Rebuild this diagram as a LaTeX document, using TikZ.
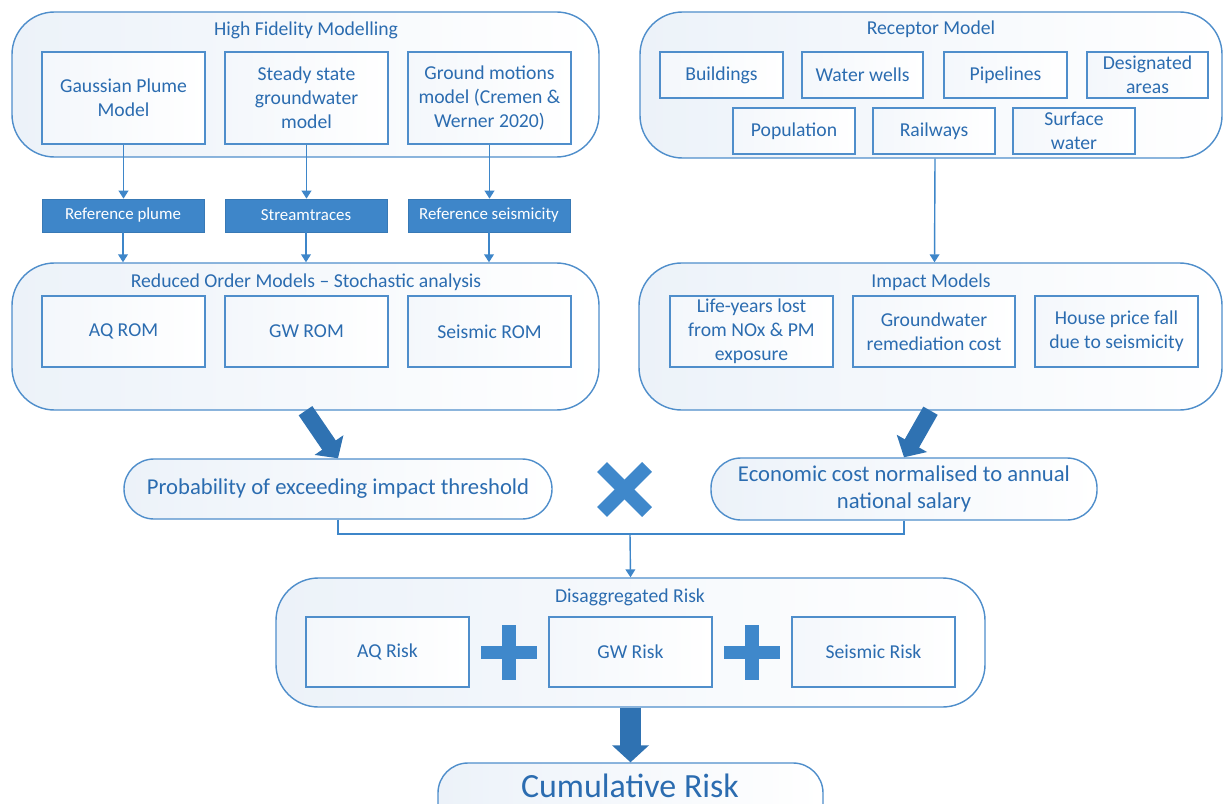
\documentclass[tikz,border=0pt]{standalone}
\usepackage{fontspec}
\setmainfont{Carlito}
\usetikzlibrary{arrows.meta,calc}
\definecolor{tc}{HTML}{2B6CB0}
\definecolor{bc}{HTML}{4F8ECB}
\definecolor{fc}{HTML}{3E86C9}
\definecolor{fa}{HTML}{2F72B2}
\definecolor{sym}{HTML}{3F88CB}
\definecolor{cl}{HTML}{ECF2F9}
\newcommand{\boxfnt}{\fontsize{11.2}{13.6}\selectfont}
\newcommand{\ttlfnt}{\fontsize{11.2}{13.6}\selectfont}
\newcommand{\smfnt}{\fontsize{9.6}{11}\selectfont}
\newcommand{\midfnt}{\fontsize{12.9}{15.2}\selectfont}
\newcommand{\bigfnt}{\fontsize{19.3}{22}\selectfont}
% node from its corner pixels: style, name, x1, y1, x2, y2, text
\newcommand{\bnode}[7]{\node[#1, minimum width={(#5-#3)*0.02cm}, minimum height={(#6-#4)*0.02cm}] (#2) at ({(#3+#5)/2},{(#4+#6)/2}) {#7};}
\tikzset{
  cont/.style={draw=bc, line width=0.8pt, rounded corners=0.85cm, left color=cl, right color=white, inner sep=0pt},
  pill/.style={draw=bc, line width=0.8pt, rounded corners=0.6cm, left color=cl, right color=white, inner sep=0pt, align=center, text=tc, font=\midfnt},
  box/.style={draw=bc, line width=0.8pt, left color=cl!60, right color=white, inner sep=0pt, align=center, text=tc, font=\boxfnt},
  fbox/.style={fill=fc, draw=fc!90!black, line width=0.4pt, inner sep=0pt, text=white, font=\smfnt},
  ttl/.style={text=tc, font=\ttlfnt, inner sep=0pt},
  conn/.style={draw=fc, line width=0.8pt, -{Triangle[width=5.5pt,length=4.5pt]}},
  line/.style={draw=fc, line width=0.8pt},
  fat/.style={draw=fa, line width=0.33cm, -{Triangle[width=0.68cm,length=0.32cm]}},
}
\begin{document}
\begin{tikzpicture}[x=0.02cm,y=-0.02cm]
\useasboundingbox (0,0) rectangle (1223,804);
\fill[white] (0,0) rectangle (1223,804);

% High fidelity modelling
\bnode{cont}{hf}{12}{12}{599}{157}{}
\node[ttl] (hft) at (306,30) {High Fidelity Modelling};
\bnode{box}{g1}{42}{52}{205}{144}{Gaussian Plume\\Model}
\bnode{box}{g2}{225}{52}{388}{144}{Steady state\\groundwater\\model}
\bnode{box}{g3}{408}{52}{571}{144}{Ground motions\\model (Cremen \&\\Werner 2020)}

\bnode{fbox}{f1}{42}{199}{204}{232}{Reference plume}
\bnode{fbox}{f2}{225}{199}{387}{232}{Streamtraces}
\bnode{fbox}{f3}{408}{199}{570}{232}{Reference seismicity}

% ROM
\bnode{cont}{rom}{12}{263}{599}{410}{}
\node[ttl] (romt) at (306,282) {Reduced Order Models -- Stochastic analysis};
\bnode{box}{r1}{42}{296}{205}{367}{AQ ROM}
\bnode{box}{r2}{225}{296}{388}{367}{GW ROM}
\bnode{box}{r3}{408}{296}{571}{367}{Seismic ROM}

\draw[conn] (g1.south) -- (g1.south |- f1.north);
\draw[conn] (g2.south) -- (g2.south |- f2.north);
\draw[conn] (g3.south) -- (g3.south |- f3.north);
\draw[conn] (f1.south) -- (f1.south |- rom.north);
\draw[conn] (f2.south) -- (f2.south |- rom.north);
\draw[conn] (f3.south) -- (f3.south |- rom.north);

% Receptor model
\bnode{cont}{rec}{640}{12}{1222}{158}{}
\node[ttl] (rect) at (931,29) {Receptor Model};
\bnode{box}{b1}{660}{52}{783}{98}{Buildings}
\bnode{box}{b2}{802}{52}{923}{98}{Water wells}
\bnode{box}{b3}{944}{52}{1067}{98}{Pipelines}
\bnode{box}{b4}{1087}{52}{1208}{98}{Designated\\areas}
\bnode{box}{b5}{733}{108}{855}{154}{Population}
\bnode{box}{b6}{873}{108}{995}{154}{Railways}
\bnode{box}{b7}{1013}{108}{1135}{154}{Surface\\water}

% Impact models
\bnode{cont}{imp}{639}{263}{1222}{410}{}
\node[ttl] (impt) at (931,282) {Impact Models};
\bnode{box}{i1}{670}{296}{833}{367}{Life-years lost\\from NOx \& PM\\exposure}
\bnode{box}{i2}{853}{296}{1015}{367}{Groundwater\\remediation cost}
\bnode{box}{i3}{1035}{296}{1198}{367}{House price fall\\due to seismicity}

\draw[conn] ([xshift=0.08cm]rec.south) -- ([xshift=0.08cm]imp.north);

% Middle row
\bnode{pill}{prob}{124}{459}{552}{519}{Probability of exceeding impact threshold}
\bnode{pill}{econ}{711}{458}{1097}{520}{Economic cost normalised to annual\\national salary}

\draw[fat] (rom.south) -- (prob.north);
\draw[fat] (imp.south) -- (econ.north);

% multiplication sign
\draw[sym, line width=0.28cm] (602,467) -- (647,512);
\draw[sym, line width=0.28cm] (602,512) -- (647,467);

% Disaggregated risk
\bnode{cont}{dis}{276}{578}{985}{707}{}
\node[ttl] (dist) at (630,597) {Disaggregated Risk};
\bnode{box}{d1}{306}{617}{469}{687}{AQ Risk}
\bnode{box}{d2}{549}{617}{712}{687}{GW Risk}
\bnode{box}{d3}{792}{617}{955}{687}{Seismic Risk}

\coordinate (jn) at (630,534);
\draw[line] (prob.south) |- (jn) -| (econ.south);
\draw[conn] (jn) -- (dis.north);

% plus signs
\fill[sym] (481,646) rectangle (537,659);
\fill[sym] (502,625) rectangle (516,680);
\fill[sym] (724,646) rectangle (780,659);
\fill[sym] (745,625) rectangle (759,680);

% Cumulative risk
\begin{scope}
\clip (0,0) rectangle (1223,804);
\bnode{pill}{cum}{438}{763}{823}{845}{}
\end{scope}
\node[text=tc, font=\bigfnt, inner sep=0pt] (cumt) at (630,786) {Cumulative Risk};
\draw[draw=fa, line width=0.41cm, -{Triangle[width=0.72cm,length=0.34cm]}] (dis.south) -- (cum.north);
\end{tikzpicture}
\end{document}
